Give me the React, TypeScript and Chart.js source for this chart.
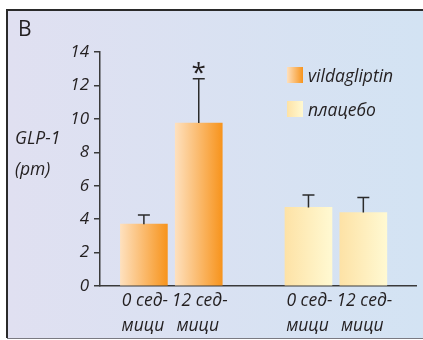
import React, { useEffect, useRef } from "react";
import { Chart, registerables } from "chart.js";

Chart.register(...registerables);

// Per-bar data: GLP-1 (pm) at 0 and 12 weeks, vildagliptin vs placebo
const groups = ["vildagliptin", "vildagliptin", "плацебо", "плацебо"];
const weekLabels = [
  ["0 сед-", "мици"],
  ["12 сед-", "мици"],
  ["0 сед-", "мици"],
  ["12 сед-", "мици"],
];
const means = [3.7, 9.75, 4.7, 4.4];
const errorTops = [4.25, 12.4, 5.45, 5.3];
const significance = ["", "*", "", ""];
const yTicks = [0, 2, 4, 6, 8, 10, 12, 14];
const legendItems = ["vildagliptin", "плацебо"];

// Slot index of each bar along the x axis (a gap separates the two arms)
const slots = [0, 1, 3, 4];

const W = 423;
const H = 340;
const FONT = "'Open Sans', 'DejaVu Sans', sans-serif";
const INK = "#231f20";

const gradStops: Record<string, [string, string]> = {
  vildagliptin: ["#fee0bd", "#f7941d"],
  плацебо: ["#fde2a6", "#fff9d2"],
};

function makeGrad(ctx: CanvasRenderingContext2D, x0: number, x1: number, group: string) {
  const [a, b] = gradStops[group];
  if (!isFinite(x0) || !isFinite(x1)) return b;
  const g = ctx.createLinearGradient(x0, 0, x1, 0);
  g.addColorStop(0, a);
  g.addColorStop(1, b);
  return g;
}

const BAR_W = 47;

const decorPlugin = {
  id: "decor",
  beforeDraw(chart: any) {
    const ctx = chart.ctx as CanvasRenderingContext2D;
    ctx.save();
    ctx.fillStyle = "#ffffff";
    ctx.fillRect(0, 0, W, H);
    const bg = ctx.createLinearGradient(8, 0, W, 0);
    bg.addColorStop(0, "#e0e0f1");
    bg.addColorStop(1, "#d3e3f3");
    ctx.fillStyle = bg;
    ctx.fillRect(8, 11, W - 8, 327);
    // panel frame
    ctx.strokeStyle = "#2a2a2a";
    ctx.lineWidth = 2;
    ctx.beginPath();
    ctx.moveTo(W + 2, 10);
    ctx.lineTo(7, 10);
    ctx.lineTo(7, 338);
    ctx.stroke();
    ctx.strokeStyle = "#7a7a82";
    ctx.lineWidth = 1;
    ctx.beginPath();
    ctx.moveTo(7, 338.5);
    ctx.lineTo(W, 338.5);
    ctx.stroke();

    // panel letter
    ctx.fillStyle = INK;
    ctx.font = `21px ${FONT}`;
    ctx.textBaseline = "alphabetic";
    ctx.textAlign = "left";
    ctx.fillText("B", 18, 36);

    // y-axis title
    ctx.font = `italic 17.5px ${FONT}`;
    ctx.fillText("GLP-1", 15, 144);
    ctx.fillText("(pm)", 15, 175);
    ctx.restore();
  },
  afterDatasetsDraw(chart: any) {
    const ctx = chart.ctx as CanvasRenderingContext2D;
    const yScale = chart.scales.y;
    const meta = chart.getDatasetMeta(0);
    ctx.save();
    ctx.strokeStyle = "#2b2b2b";
    ctx.lineWidth = 1.5;
    meta.data.forEach((el: any, i: number) => {
      const top = yScale.getPixelForValue(errorTops[i]);
      ctx.beginPath();
      ctx.moveTo(el.x, el.y);
      ctx.lineTo(el.x, top);
      ctx.moveTo(el.x - 6, top);
      ctx.lineTo(el.x + 6, top);
      ctx.stroke();
      if (significance[i]) {
        ctx.fillStyle = INK;
        ctx.font = `26px ${FONT}`;
        ctx.textAlign = "center";
        ctx.textBaseline = "alphabetic";
        ctx.fillText(significance[i], el.x, top + 2);
      }
      // bar labels under the axis
      ctx.fillStyle = INK;
      ctx.font = `italic 17.5px ${FONT}`;
      ctx.textAlign = "center";
      ctx.textBaseline = "alphabetic";
      const [l1, l2] = weekLabels[i];
      ctx.fillText(l1, el.x + 1, 306);
      ctx.fillText(l2, el.x - 1, 331);
    });

    // legend
    ctx.textAlign = "left";
    ctx.textBaseline = "alphabetic";
    ctx.font = `italic 17.5px ${FONT}`;
    legendItems.forEach((name, i) => {
      const bx = 287;
      const by = 67 + i * 34;
      ctx.fillStyle = makeGrad(ctx, bx, bx + 16, name);
      ctx.fillRect(bx, by, 16, 16);
      ctx.fillStyle = INK;
      ctx.fillText(name, 308, by + 15);
    });
    ctx.restore();
  },
};

export default function App() {
  const ref = useRef<HTMLCanvasElement | null>(null);

  useEffect(() => {
    const canvas = ref.current;
    if (!canvas) return;
    const chart = new Chart(canvas, {
      type: "bar",
      data: {
        datasets: [
          {
            data: means.map((v, i) => ({ x: slots[i], y: v })),
            barThickness: BAR_W,
            grouped: false,
            borderWidth: 0,
            backgroundColor: (c: any) => {
              const xs = c.chart.scales?.x;
              if (!xs || c.dataIndex == null) return "#f7941d";
              const cx = xs.getPixelForValue(slots[c.dataIndex]);
              return makeGrad(c.chart.ctx, cx - BAR_W / 2, cx + BAR_W / 2, groups[c.dataIndex]);
            },
          } as any,
        ],
      },
      options: {
        responsive: false,
        animation: false,
        devicePixelRatio: 1,
        layout: { padding: { left: 0, top: 52, right: 7, bottom: 54 } },
        plugins: { legend: { display: false }, tooltip: { enabled: false } },
        scales: {
          x: {
            type: "linear",
            offset: false,
            min: -0.8,
            max: 4.96,
            ticks: { display: false },
            grid: { display: false, drawTicks: false, offset: false },
            border: { display: true, color: "#3a3a3a", width: 1.5 },
            afterFit: (s: any) => {
              s.height = 0;
            },
          },
          y: {
            min: 0,
            max: 14,
            afterBuildTicks: (s: any) => {
              s.ticks = yTicks.map((v) => ({ value: v }));
            },
            ticks: {
              color: INK,
              font: { family: FONT, size: 17, style: "italic" },
              padding: 5,
            },
            grid: {
              drawOnChartArea: false,
              drawTicks: true,
              tickLength: 6,
              color: "#3a3a3a",
              lineWidth: 1.5,
            },
            border: { display: true, color: "#3a3a3a", width: 1.5 },
            afterFit: (s: any) => {
              s.width = 100;
            },
          },
        },
      },
      plugins: [decorPlugin],
    } as any);
    return () => chart.destroy();
  }, []);

  return (
    <div style={{ position: "fixed", left: 0, top: 0, width: W, height: H }}>
      <canvas ref={ref} width={W} height={H} style={{ display: "block" }} />
    </div>
  );
}
